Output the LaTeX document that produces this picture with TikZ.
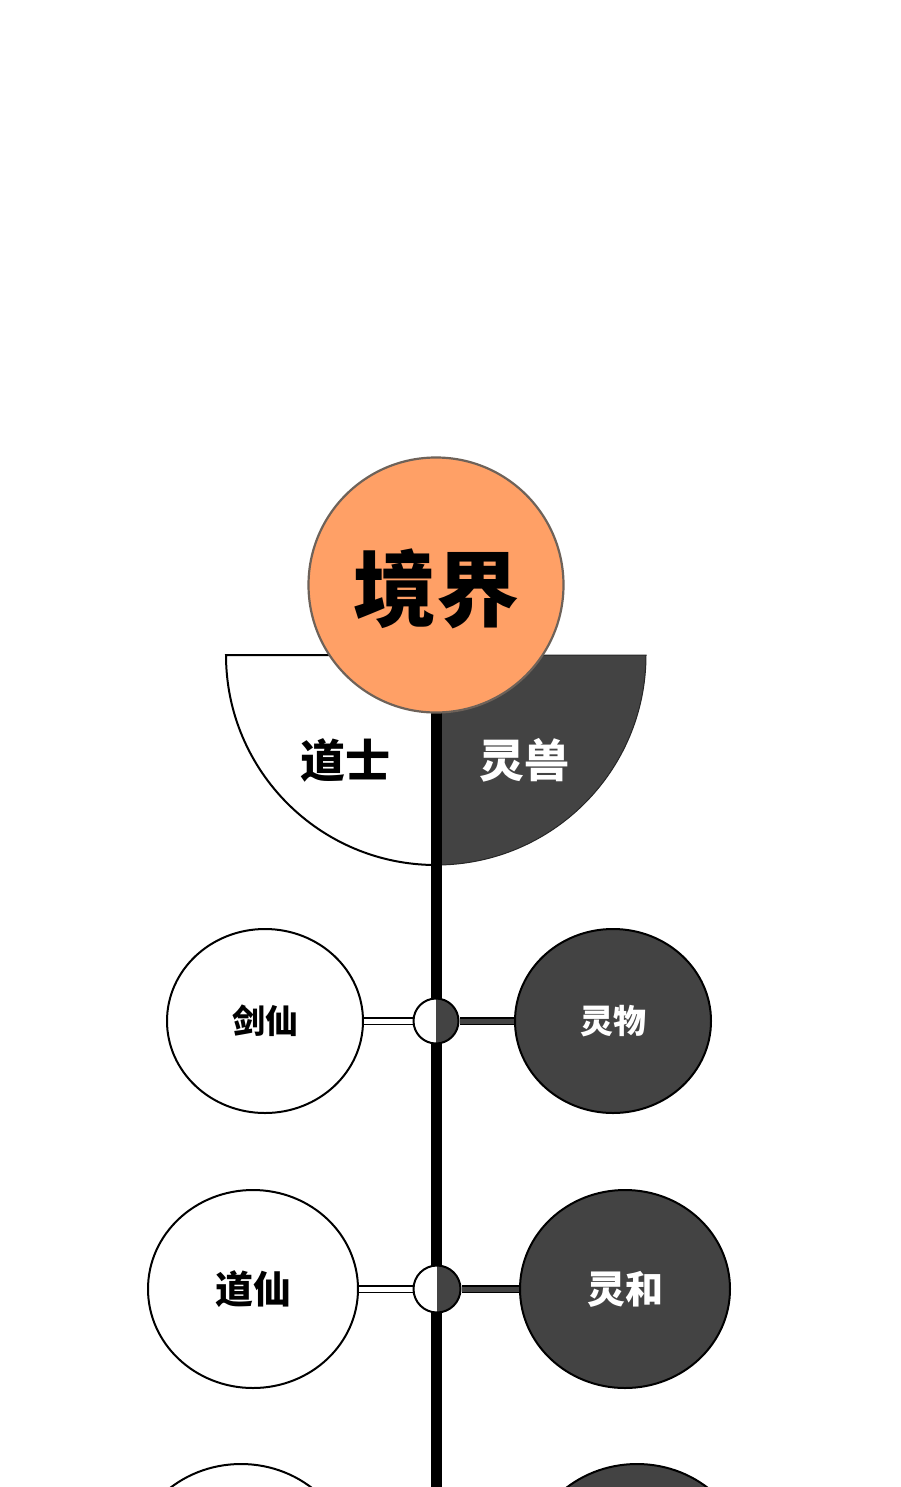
\documentclass[tikz,border=0pt]{standalone}
\usepackage{fontspec}
\newfontfamily\cjk{Noto Sans CJK SC}
\usetikzlibrary{shapes.geometric,backgrounds}
\definecolor{orng}{HTML}{FFA066}
\definecolor{orngline}{HTML}{6E6259}
\definecolor{dk}{HTML}{434343}
\begin{document}
\begin{tikzpicture}[x=1pt,y=-1pt,
  lbl/.style={font=\cjk\bfseries\fontsize{#1}{#1}\selectfont},
  wnode/.style={ellipse, draw=black, line width=2pt, fill=white, inner sep=0pt},
  dnode/.style={ellipse, draw=black, line width=2pt, fill=dk, text=white, inner sep=0pt},
  hub/.style={circle, draw=black, line width=2pt, fill=white, inner sep=0pt,
    path picture={\fill[dk] (path picture bounding box.north) rectangle (path picture bounding box.south east);}},
  wlink/.style={draw=black, line width=1.6pt, double=white, double distance=5pt},
  dlink/.style={draw=black, line width=1.6pt, double=dk, double distance=5pt},
  spine/.style={draw=black, line width=11pt}]
\useasboundingbox (0,0) rectangle (900,1487);

\coordinate (spineEnd) at (436,1487);

% title
\node[circle, draw=orngline, line width=2.2pt, fill=orng, minimum size=255pt, inner sep=0pt] (top) at (436,585) {};
\node[lbl=83] (topTxt) at (436,589) {境界};

\node[lbl=45] (daoshi) at (345,760) {道士};
\node[lbl=45, text=white] (lingshou) at (524,760) {灵兽};

% row 1
\node[wnode, minimum width=196pt, minimum height=184pt, lbl=33] (L1) at (265,1021) {剑仙};
\node[dnode, minimum width=196pt, minimum height=184pt, lbl=33, text=white] (R1) at (613,1021) {灵物};
\node[hub, minimum size=45pt] (h1) at (436,1021) {};

% row 2
\node[wnode, minimum width=210pt, minimum height=198pt, lbl=38] (L2) at (253,1289) {道仙};
\node[dnode, minimum width=210pt, minimum height=198pt, lbl=38, text=white] (R2) at (625,1289) {灵和};
\node[hub, minimum size=47pt] (h2) at (437,1289) {};

% row 3 (cut off)
\node[wnode, minimum width=224pt, minimum height=212pt] (L3) at (241,1570) {};
\node[dnode, minimum width=224pt, minimum height=212pt] (R3) at (637,1570) {};

\begin{pgfonlayer}{background}
  \fill[white] (0,0) rectangle (900,1487);
  % half disc under the title
  \draw[fill=white, line width=2pt] (436,655) -- (226,655)
    arc[start angle=180, end angle=270, radius=210pt] -- cycle;
  \draw[fill=dk, draw=black!85, line width=1pt] (436,655) -- (646,655)
    arc[start angle=0, end angle=-90, radius=210pt] -- cycle;
  \draw[spine] (top.center) -- (spineEnd);
  \draw[wlink] (L1) -- (h1);
  \draw[dlink] (h1) -- (R1);
  \draw[wlink] (L2) -- (h2);
  \draw[dlink] (h2) -- (R2);
\end{pgfonlayer}
\end{tikzpicture}
\end{document}
